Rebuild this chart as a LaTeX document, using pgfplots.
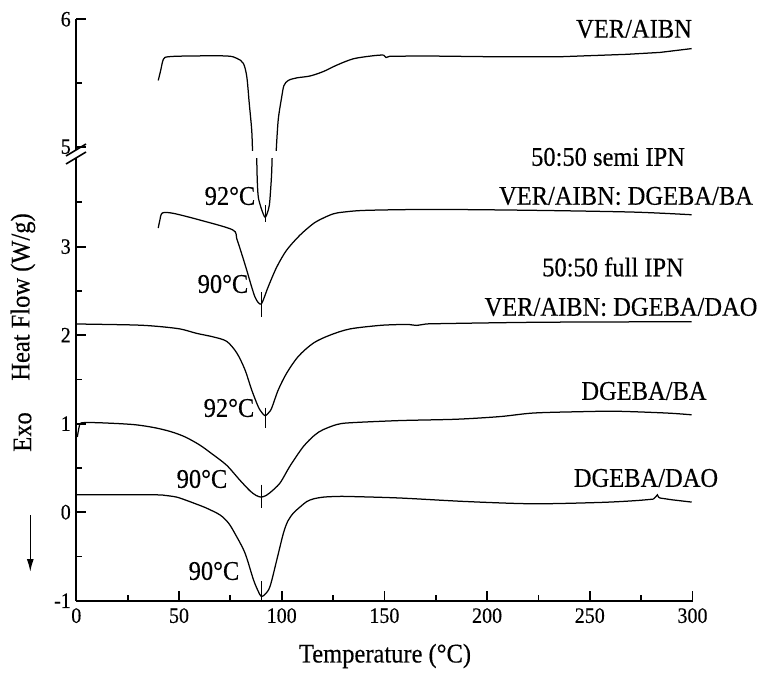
\documentclass[border=0pt]{standalone}
\usepackage{pgfplots}
\pgfplotsset{compat=1.18}
\usepackage{graphicx}
\usepackage{fontspec}
\setmainfont{Liberation Serif}
\newfontfamily\heavyserif{Liberation Serif}[FakeBold=0.35]
\usetikzlibrary{arrows.meta}

\newcommand\lab{\fontsize{24.5}{28}\selectfont\heavyserif}
\newcommand\tks{\fontsize{20}{22}\selectfont\heavyserif}
\newcommand\sy[1]{\scalebox{1}[1.1]{#1}}

\pgfplotsset{
  dsc/.style={
    scale only axis,
    width=616.2pt,
    xmin=0, xmax=300,
    tick align=inside,
    major tick length=10pt,
    minor tick length=5.5pt,
    axis line style={line width=2.1pt},
    every tick/.style={line width=1.8pt, black},
    tick label style={font=\tks},
    yticklabel style={xshift=-2pt},
    xticklabel style={yshift=-4pt},
  },
  curve/.style={black, line width=1.25pt, smooth, tension=0.5, no marks},
  peak/.style={black, line width=1.25pt, no marks},
}

\begin{document}
\begin{tikzpicture}[x=1pt,y=1pt]
\useasboundingbox (0,0) rectangle (759,672);

% lower part of the broken ordinate: -1 ... 4
\begin{axis}[dsc,
  at={(76.3pt,71.3pt)}, anchor=south west,
  height=442.6pt,
  ymin=-1, ymax=4,
  axis x line*=bottom, axis y line*=left,
  xtick={0,50,...,300},
  xticklabels={\sy{0},\sy{50},\sy{100},\sy{150},\sy{200},\sy{250},\sy{300}},
  minor xtick={25,75,...,275},
  ytick={-1,0,1,2,3},
  yticklabels={\sy{-1},\sy{0},\sy{1},\sy{2},\sy{3}},
  minor ytick={-0.5,0.5,1.5,2.5,3.5},
]
% VER/AIBN, bottom of the peak
\addplot[curve] coordinates {(87.8,4.05) (88.1,3.75) (88.6,3.56) (89.8,3.45) (91.0,3.37) (92,3.33) (93.0,3.38) (94.0,3.47) (94.6,3.64) (95.1,3.83) (95.4,4.05)};
\addplot[peak] coordinates {(92,3.47) (92,3.28)};

% 50:50 semi IPN
\addplot[curve] coordinates {(39.9,3.21) (40.7,3.30) (41.9,3.38) (47.2,3.376) (60.2,3.30) (76.1,3.19) (78.1,3.09) (80.5,2.92) (82.9,2.74) (85.3,2.55) (87.0,2.43) (88.5,2.37) (90,2.35) (91.4,2.42) (93.5,2.55) (97.6,2.77) (102.4,2.96) (108.9,3.13) (115.4,3.26) (120,3.32) (125.1,3.37) (130,3.39) (141.4,3.41) (173.8,3.42) (222.5,3.41) (271.2,3.39) (299.6,3.36)};
\addplot[peak] coordinates {(90,2.49) (90,2.21)};

% 50:50 full IPN
\addplot[curve] coordinates {(0.2,2.126) (27.7,2.115) (39.1,2.10) (50.5,2.07) (58.6,2.02) (66.7,1.98) (73.2,1.93) (78.1,1.80) (82.1,1.61) (85.4,1.38) (88.6,1.19) (90.5,1.12) (92,1.09) (93.5,1.12) (95.1,1.175) (98.3,1.38) (102.4,1.57) (108.1,1.76) (115.4,1.91) (123.5,2.00) (133.2,2.07) (147.8,2.11) (157.6,2.12) (162,2.12) (165.8,2.11) (170,2.125) (177.1,2.13) (222.5,2.145) (271.2,2.15) (299.6,2.15)};
\addplot[peak] coordinates {(92,1.18) (92,0.95)};

% DGEBA/BA
\addplot[curve] coordinates {(0.5,0.85) (1.5,0.975) (2.6,1.01) (11.5,1.01) (27.7,0.99) (38,0.955) (46,0.91) (53,0.85) (60,0.76) (66,0.66) (73.2,0.53) (79.7,0.36) (84.6,0.24) (87.5,0.19) (90,0.17) (92.5,0.19) (94.3,0.22) (99.2,0.33) (104.0,0.52) (110.5,0.74) (116,0.87) (120,0.93) (126.8,0.99) (133.3,1.01) (157.6,1.035) (185,1.05) (206.3,1.08) (222.5,1.12) (245,1.135) (263.1,1.14) (287.4,1.12) (299.6,1.10)};
\addplot[peak] coordinates {(90,0.31) (90,0.05)};

% DGEBA/DAO
\addplot[curve] coordinates {(0.2,0.196) (37.5,0.196) (43,0.19) (48.9,0.17) (54,0.13) (58.6,0.09) (63,0.05) (69.9,-0.03) (74,-0.12) (77.2,-0.24) (82.1,-0.46) (86.2,-0.76) (88.5,-0.89) (90,-0.95) (91.8,-0.93) (94.3,-0.84) (97.6,-0.54) (100.8,-0.24) (103,-0.10) (105.7,-0.01) (109,0.06) (112.2,0.12) (115.4,0.15) (120.3,0.17) (127,0.178) (133.3,0.177) (157.6,0.16) (190.1,0.12) (222.5,0.095) (255,0.11) (272,0.13) (281,0.148)};
\addplot[peak] coordinates {(281,0.148) (282.3,0.18) (282.9,0.196) (283.5,0.17) (284.2,0.16) (290,0.14) (299.6,0.114)};
\addplot[peak] coordinates {(90,-0.78) (90,-0.99)};
\end{axis}

% upper part of the broken ordinate: 5 ... 6
\begin{axis}[dsc,
  at={(76.3pt,521.5pt)}, anchor=south west,
  height=131.2pt,
  ymin=4.97, ymax=6,
  axis x line=none, axis y line*=left,
  xtick=\empty,
  ytick={5,6},
  yticklabels={\sy{5},\sy{6}},
  minor ytick={5.5},
]
% VER/AIBN baseline and the top of the peak
\addplot[curve] coordinates {(39.9,5.52) (41.1,5.60) (42.4,5.686) (44.8,5.706) (55.4,5.712) (73.2,5.712) (78.1,5.694) (81.3,5.655) (83.0,5.55) (84.2,5.34) (85.4,5.13) (85.8,4.96)};
\addplot[curve] coordinates {(97.3,4.96) (98.3,5.21) (100.0,5.39) (101.1,5.48) (103.2,5.52) (107.3,5.54) (113.8,5.555) (120.3,5.59) (126.8,5.64) (134.9,5.69) (144.6,5.714) (149.5,5.72)};
\addplot[peak] coordinates {(149.5,5.72) (150.8,5.70) (152.7,5.71) (170.6,5.712) (203,5.706) (235.5,5.706) (268,5.725) (284.2,5.74) (299.6,5.77)};
\end{axis}

% axis break marks
\fill[white] (70,514.5) rectangle (83,521);
\draw[line width=1.6pt] (66,516) -- (86,528);
\draw[line width=1.6pt] (66,508) -- (86,520);

% curve labels
\node at (634,643) {\lab\sy{VER/AIBN}};
\node at (608,515) {\lab\sy{50:50 semi IPN}};
\node at (626,476) {\lab\sy{VER/AIBN: DGEBA/BA}};
\node at (613,405) {\lab\sy{50:50 full IPN}};
\node at (621,365) {\lab\sy{VER/AIBN: DGEBA/DAO}};
\node at (644,281) {\lab\sy{DGEBA/BA}};
\node at (646,194) {\lab\sy{DGEBA/DAO}};

% peak temperatures
\node at (230,476) {\lab\sy{92°C}};
\node at (223,388) {\lab\sy{90°C}};
\node at (229,264) {\lab\sy{92°C}};
\node at (202,193) {\lab\sy{90°C}};
\node at (214,101) {\lab\sy{90°C}};

% axis titles
\node at (385,16) {\lab\sy{Temperature (°C)}};
\node[rotate=90] at (22.5,240) {\lab\sy{Exo}};
\node[rotate=90] at (23,375) {\lab\sy{Heat Flow (W/g)}};
\draw[-{Latex[length=13pt,width=7pt]}, line width=1.5pt] (30.3,157) -- (30.3,100);
\end{tikzpicture}
\end{document}
